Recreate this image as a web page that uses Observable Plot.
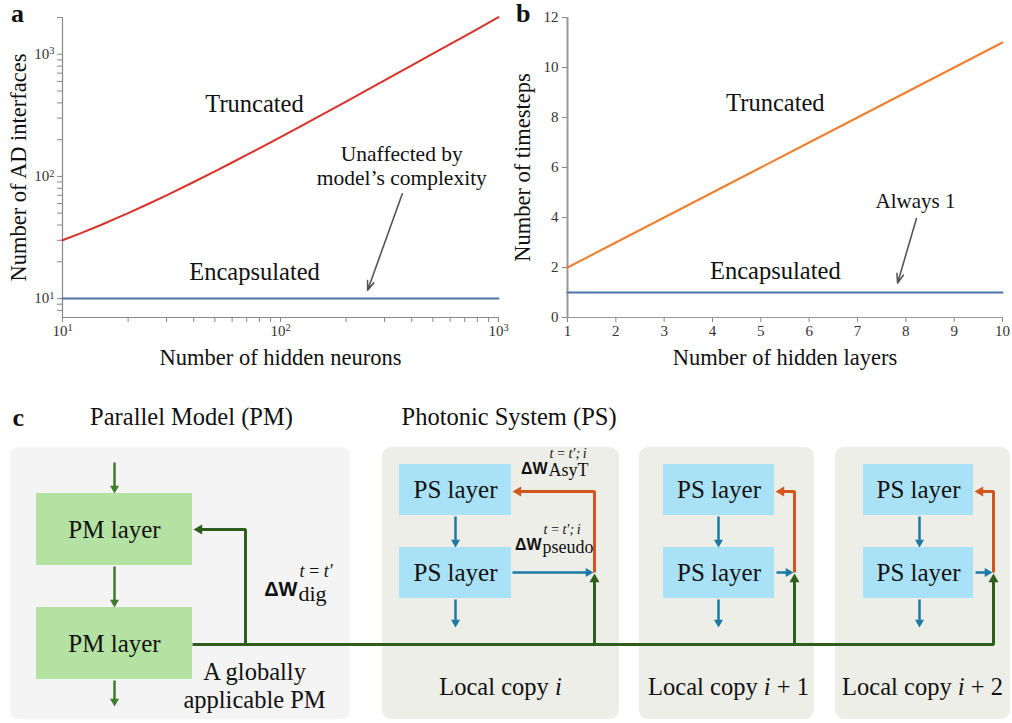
<!DOCTYPE html>
<html><head><meta charset="utf-8">
<script src="https://cdn.jsdelivr.net/npm/d3@7"></script>
<script src="https://cdn.jsdelivr.net/npm/@observablehq/plot@0.6"></script>
<style>
body{margin:0;background:#fff;}
#root{position:relative;width:1012px;height:723px;overflow:hidden;font-family:"Liberation Serif","Times New Roman",serif;color:#111;}
#root svg{position:absolute;overflow:visible;}
.tag{position:absolute;font-weight:bold;font-size:26px;line-height:1;}
</style></head><body><div id="root"></div>
<script>
// ---------- data: panel a ----------
const neurons = [10,12,15,20,25,30,40,50,60,70,80,100,120,150,200,250,300,400,500,600,700,800,1000];
const interfacesTruncated = [30,34,40,50,60,70,90,110,130,150,170,210,250,310,410,510,610,810,1010,1210,1410,1610,2010];
const neuronsEnc = [10,1000];
const interfacesEncapsulated = [10,10];
const aTicksX = [10,20,30,40,50,60,70,80,90,100,200,300,400,500,600,700,800,900,1000];
const aTicksY = [8,9,10,20,30,40,50,60,70,80,90,100,200,300,400,500,600,700,800,900,1000,2000];
const aAnnot = [
  {label:"Truncated", n:76, v:400, size:24.5},
  {label:"Encapsulated", n:76, v:16.6, size:24.5},
  {label:"Unaffected by\nmodel’s complexity", n:360, v:123, size:21.5}
];
const aArrow = [{x1:362, y1:72, x2:251, y2:11.7}];

// ---------- data: panel b ----------
const layers = [1,2,3,4,5,6,7,8,9,10];
const stepsTruncated = [2,3,4,5,6,7,8,9,10,11];
const stepsEncapsulated = [1,1,1,1,1,1,1,1,1,1];
const bTicksX = [1,2,3,4,5,6,7,8,9,10];
const bTicksY = [0,2,4,6,8,10,12];
const bAnnot = [
  {label:"Truncated", n:5.3, v:8.56, size:24.5},
  {label:"Encapsulated", n:5.3, v:1.84, size:24.5},
  {label:"Always 1", n:8.2, v:4.64, size:21}
];
const bArrow = [{x1:8.22, y1:3.96, x2:7.83, y2:1.38}];

// ---------- data: panel c (diagram, page pixel layout) ----------
const cPanels = [
  {x1:10, x2:350, y1:447, y2:719, fill:"#f4f4f4"},
  {x1:382, x2:619, y1:447, y2:719, fill:"#eeeee9"},
  {x1:639, x2:814, y1:447, y2:719, fill:"#eeeee9"},
  {x1:835, x2:1010, y1:447, y2:719, fill:"#eeeee9"}
];
const cLayers = [
  {x1:36, x2:192, y1:493, y2:565, label:"PM layer", fill:"#b3e2a2"},
  {x1:36, x2:192, y1:607, y2:679, label:"PM layer", fill:"#b3e2a2"},
  {x1:399, x2:511, y1:464, y2:515, label:"PS layer", fill:"#a9e1f6"},
  {x1:399, x2:511, y1:547, y2:598, label:"PS layer", fill:"#a9e1f6"},
  {x1:663, x2:774, y1:464, y2:515, label:"PS layer", fill:"#a9e1f6"},
  {x1:663, x2:774, y1:547, y2:598, label:"PS layer", fill:"#a9e1f6"},
  {x1:863, x2:973, y1:464, y2:515, label:"PS layer", fill:"#a9e1f6"},
  {x1:863, x2:973, y1:547, y2:598, label:"PS layer", fill:"#a9e1f6"}
];
const GREEN = "#3e7d2b", DKGREEN = "#2d5e1e", BLUE = "#1b7aa5", ORANGE = "#d1571e";
const cPaths = [
  {color:GREEN, w:2.5, pts:[[114,462],[114,493]]},
  {color:GREEN, w:2.5, pts:[[114,566],[114,607]]},
  {color:GREEN, w:2.5, pts:[[114,680],[114,706]]},
  {color:DKGREEN, w:3, pts:[[192,644],[993,644],[993,573]]},
  {color:DKGREEN, w:3, pts:[[245,644],[245,529],[193,529]]},
  {color:DKGREEN, w:3, pts:[[594,644],[594,573]]},
  {color:DKGREEN, w:3, pts:[[794,644],[794,573]]},
  {color:BLUE, w:2.5, pts:[[455,516],[455,547]]},
  {color:BLUE, w:2.5, pts:[[455,599],[455,627]]},
  {color:BLUE, w:2.5, pts:[[512,572],[593,572]]},
  {color:BLUE, w:2.5, pts:[[718,516],[718,547]]},
  {color:BLUE, w:2.5, pts:[[718,599],[718,627]]},
  {color:BLUE, w:2.5, pts:[[776,572],[793,572]]},
  {color:BLUE, w:2.5, pts:[[919,516],[919,547]]},
  {color:BLUE, w:2.5, pts:[[919,599],[919,627]]},
  {color:BLUE, w:2.5, pts:[[975,572],[992,572]]},
  {color:ORANGE, w:3, pts:[[594,572],[594,491],[512,491]]},
  {color:ORANGE, w:3, pts:[[794,572],[794,491],[775,491]]},
  {color:ORANGE, w:3, pts:[[993,572],[993,491],[974,491]]}
];
const cTitlesCentered = [
  {t:"Parallel Model (PM)", x:191, y:417},
  {t:"A globally", x:254, y:672},
  {t:"applicable PM", x:254, y:700},
  {t:"Local copy i", x:500, y:687},
  {t:"Local copy i + 1", x:728, y:687},
  {t:"Local copy i + 2", x:922, y:687}
];
const cTitlesLeft = [
  {t:"Photonic System (PS)", x:401, y:417}
];
// gradient labels: base "ΔW", superscript, subscript
const cDeltas = [
  {x:297, base:590, sup:"t\u2009=\u2009t′", sub:"dig", bsize:20, ssize:18, subsize:22, supDy:-14, subDy:10},
  {x:547, base:468, sup:"t\u2009=\u2009t′;\u2009i", sub:"AsyT", bsize:16, ssize:14, subsize:18, supDy:-11, subDy:7},
  {x:541, base:544, sup:"t\u2009=\u2009t′;\u2009i", sub:"pseudo", bsize:16, ssize:14, subsize:18, supDy:-11, subDy:8}
];

const SERIF = "'Liberation Serif','Times New Roman',serif";
const supers = {1:"¹",2:"²",3:"³"};
const fmtPow = d => { const k = Math.round(Math.log10(d)); return Math.abs(d - 10 ** k) < 1e-6 ? "10" + supers[k] : ""; };
const root = document.getElementById("root");

// ---------- panel a ----------
const plotA = Plot.plot({
  width: 505, height: 390, marginLeft: 62, marginRight: 7, marginTop: 17, marginBottom: 73,
  style: {fontFamily: SERIF, fontSize: "15px", color: "#333", background: "transparent", overflow: "visible"},
  x: {type: "log", domain: [10, 1000]},
  y: {type: "log", domain: [7, 2000]},
  marks: [
    Plot.axisX({ticks: aTicksX, tickFormat: fmtPow, tickSize: 5, tickPadding: 3, stroke: "#888", label: null}),
    Plot.axisY({ticks: aTicksY, tickFormat: fmtPow, tickSize: 5, tickPadding: 3, stroke: "#888", label: null}),
    Plot.ruleX([10], {stroke: "#888", strokeWidth: 1.2}),
    Plot.ruleY([7], {stroke: "#888", strokeWidth: 1.2}),
    Plot.line(neuronsEnc, {x: neuronsEnc, y: interfacesEncapsulated, stroke: "#4c72a8", strokeWidth: 2}),
    Plot.line(neurons, {x: neurons, y: interfacesTruncated, stroke: "#d8322a", strokeWidth: 2}),
    Plot.text(aAnnot, {x: "n", y: "v", text: "label", fontSize: d => d.size, fill: "#111", lineHeight: 1.12}),
    Plot.arrow(aArrow, {x1: "x1", y1: "y1", x2: "x2", y2: "y2", stroke: "#555", strokeWidth: 1.6, headLength: 9, headAngle: 40}),
    Plot.text(["Number of hidden neurons"], {text: d => d, frameAnchor: "bottom", dy: 47, fontSize: 22.5, fill: "#111"}),
    Plot.text(["Number of AD interfaces"], {text: d => d, frameAnchor: "left", textAnchor: "middle", dx: -44, rotate: -90, fontSize: 22.5, fill: "#111"})
  ]
});
plotA.style.left = "0px"; plotA.style.top = "0px";
root.appendChild(plotA);
// power-of-ten tick labels with a raised exponent
d3.select(plotA).selectAll("text").each(function () {
  const m = /^10([¹²³])$/.exec(this.textContent);
  if (m) {
    const e = {"¹":"1","²":"2","³":"3"}[m[1]];
    const s = d3.select(this); s.text("10");
    s.append("tspan").attr("dy", "-0.45em").attr("font-size", "10.5px").text(e);
  }
});

// ---------- panel b ----------
const plotB = Plot.plot({
  width: 507, height: 390, marginLeft: 62, marginRight: 10, marginTop: 17, marginBottom: 73,
  style: {fontFamily: SERIF, fontSize: "15px", color: "#333", background: "transparent", overflow: "visible"},
  x: {domain: [1, 10]},
  y: {domain: [0, 12]},
  marks: [
    Plot.axisX({ticks: bTicksX, tickSize: 5, tickPadding: 3, stroke: "#888", label: null}),
    Plot.axisY({ticks: bTicksY, tickSize: 5, tickPadding: 4, stroke: "#888", label: null}),
    Plot.ruleX([1], {stroke: "#999", strokeWidth: 2}),
    Plot.ruleY([0], {stroke: "#999", strokeWidth: 1.2}),
    Plot.line(layers, {x: layers, y: stepsEncapsulated, stroke: "#4c72a8", strokeWidth: 2}),
    Plot.line(layers, {x: layers, y: stepsTruncated, stroke: "#ee7f2f", strokeWidth: 2}),
    Plot.text(bAnnot, {x: "n", y: "v", text: "label", fontSize: d => d.size, fill: "#111"}),
    Plot.arrow(bArrow, {x1: "x1", y1: "y1", x2: "x2", y2: "y2", stroke: "#555", strokeWidth: 1.6, headLength: 9, headAngle: 40}),
    Plot.text(["Number of hidden layers"], {text: d => d, frameAnchor: "bottom", dy: 47, fontSize: 22.5, fill: "#111"}),
    Plot.text(["Number of timesteps"], {text: d => d, frameAnchor: "left", textAnchor: "middle", dx: -45, rotate: -90, fontSize: 22.5, fill: "#111"})
  ]
});
plotB.style.left = "505px"; plotB.style.top = "0px";
root.appendChild(plotB);

// panel tags
[["a", 11, 1], ["b", 516, 1]].forEach(([t, x, y]) => {
  const s = document.createElement("div"); s.className = "tag"; s.textContent = t;
  s.style.left = x + "px"; s.style.top = y + "px"; root.appendChild(s);
});

// ---------- panel c ----------
const segs = [], heads = [];
cPaths.forEach((p, i) => {
  const n = p.pts.length;
  const [tx, ty] = p.pts[n - 1], [px, py] = p.pts[n - 2];
  const L = Math.hypot(tx - px, ty - py), ux = (tx - px) / L, uy = (ty - py) / L;
  const hh = p.w >= 3 ? 2.9 : 2.6; // |y| of d3 triangle
  p.pts.forEach((q, j) => {
    const last = j === n - 1;
    segs.push({id: i, color: p.color, w: p.w, x: last ? tx - ux * 5 : q[0], y: last ? ty - uy * 5 : q[1]});
  });
  const rot = Math.atan2(ux, -uy) * 180 / Math.PI;
  heads.push({x: tx - ux * 2 * hh, y: ty - uy * 2 * hh, rot, color: p.color, r: Math.sqrt(3 * Math.sqrt(3) * hh * hh / Math.PI)});
});
const cMarks = [
  Plot.rect(cPanels, {x1: "x1", x2: "x2", y1: "y1", y2: "y2", fill: "fill", rx: 9}),
  Plot.rect(cLayers, {x1: "x1", x2: "x2", y1: "y1", y2: "y2", fill: "fill"}),
  Plot.text(cLayers, {x: d => (d.x1 + d.x2) / 2, y: d => (d.y1 + d.y2) / 2, text: "label", fontSize: 25, fill: "#111"}),
  Plot.line(segs, {x: "x", y: "y", z: "id", stroke: "color", strokeWidth: "w", strokeLinejoin: "miter", strokeLinecap: "butt"}),
  Plot.dot(heads, {x: "x", y: "y", r: "r", rotate: "rot", symbol: "triangle", fill: "color", stroke: null}),
  Plot.text(["c"], {text: d => d, x: 12, y: 417, fontSize: 26, fontWeight: "bold", textAnchor: "start", fill: "#111"}),
  Plot.text(cTitlesCentered, {x: "x", y: "y", text: "t", fontSize: 24.5, textAnchor: "middle", fill: "#111"}),
  Plot.text(cTitlesLeft, {x: "x", y: "y", text: "t", fontSize: 24.5, textAnchor: "start", fill: "#111"}),
  Plot.text(cDeltas, {x: "x", y: "base", text: () => "ΔW", textAnchor: "end", lineAnchor: "bottom", dy: 5, fontSize: d => d.bsize, fontWeight: "bold", fontFamily: "'Liberation Sans',sans-serif", fill: "#111"}),
  Plot.text(cDeltas, {x: d => d.x + 2, y: d => d.base + d.supDy, text: "sup", textAnchor: "start", lineAnchor: "bottom", fontSize: d => d.ssize, fontStyle: "italic", fill: "#111"}),
  Plot.text(cDeltas, {x: d => d.x + 1, y: d => d.base + d.subDy, text: "sub", textAnchor: "start", lineAnchor: "bottom", fontSize: d => d.subsize, fill: "#111"})
];
const plotC = Plot.plot({
  width: 1012, height: 330, margin: 0,
  style: {fontFamily: SERIF, fontSize: "13px", color: "#111", background: "transparent", overflow: "visible"},
  x: {domain: [0, 1012], range: [0, 1012], axis: null},
  y: {domain: [393, 723], range: [0, 330], axis: null},
  r: {type: "identity"},
  marks: cMarks
});
plotC.style.left = "0px"; plotC.style.top = "393px";
root.appendChild(plotC);

// italic math index in "Local copy i ..." labels
d3.select(plotC).selectAll("text").each(function () {
  const t = this.textContent;
  if (t.startsWith("Local copy ")) {
    const rest = t.slice("Local copy ".length);
    const sel = d3.select(this); sel.text("Local copy ");
    sel.append("tspan").attr("font-style", "italic").text(rest[0]);
    if (rest.length > 1) sel.append("tspan").text(rest.slice(1));
  }
});
</script></body></html>
